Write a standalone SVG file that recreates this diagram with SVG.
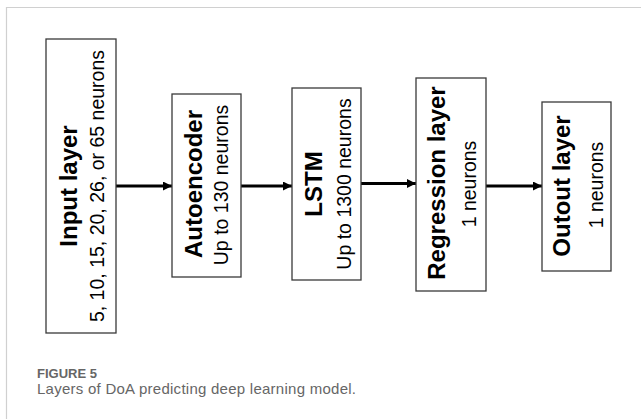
<svg xmlns="http://www.w3.org/2000/svg" width="641" height="419" viewBox="0 0 641 419">
  <style>
    .frame { stroke: #d0d0d0; stroke-width: 1.2; fill: none; }
    .box { fill: #ffffff; stroke: #3a3a3a; stroke-width: 1.3; }
    .title { font-family: "Liberation Sans", Arial, sans-serif; font-weight: bold; font-size: 24px; fill: #000; text-anchor: middle; }
    .sub { font-family: "Liberation Sans", Arial, sans-serif; font-size: 19.5px; fill: #000; text-anchor: middle; }
    .link { stroke: #000; stroke-width: 3; fill: none; marker-end: url(#head); }
    .cap-head { font-family: "Liberation Sans", Arial, sans-serif; font-weight: bold; font-size: 13px; fill: #666; }
    .cap-text { font-family: "Liberation Sans", Arial, sans-serif; font-size: 15px; fill: #666; }
  </style>
  <defs>
    <marker id="head" viewBox="0 0 10 10" refX="10" refY="5" markerWidth="3.2" markerHeight="3" orient="auto" markerUnits="strokeWidth">
      <path d="M0,0 L10,5 L0,10 z" fill="#000"/>
    </marker>
  </defs>

  <rect width="641" height="419" fill="#ffffff"/>
  <!-- panel frame -->
  <path class="frame" d="M641,7.5 H6.5 V419"/>

  <!-- connectors -->
  <g id="connectors">
    <line class="link" x1="116" y1="186" x2="172" y2="186"/>
    <line class="link" x1="241" y1="186" x2="292" y2="186"/>
    <line class="link" x1="361" y1="183.5" x2="416" y2="183.5"/>
    <line class="link" x1="486" y1="186" x2="542" y2="186"/>
  </g>

  <g id="input-layer">
    <rect class="box" x="46" y="39" width="70" height="294"/>
    <text class="title" transform="translate(77,186) rotate(-90)">Input layer</text>
    <text class="sub" transform="translate(104,186) rotate(-90)">5, 10, 15, 20, 26, or 65 neurons</text>
  </g>

  <g id="autoencoder">
    <rect class="box" x="172" y="94" width="69" height="183"/>
    <text class="title" transform="translate(202,184) rotate(-90)">Autoencoder</text>
    <text class="sub" transform="translate(228,185) rotate(-90)">Up to 130 neurons</text>
  </g>

  <g id="lstm">
    <rect class="box" x="292" y="88" width="69" height="192"/>
    <text class="title" transform="translate(322,184) rotate(-90)">LSTM</text>
    <text class="sub" transform="translate(351,184) rotate(-90)">Up to 1300 neurons</text>
  </g>

  <g id="regression-layer">
    <rect class="box" x="416" y="78" width="70" height="213"/>
    <text class="title" transform="translate(445,183) rotate(-90)">Regression layer</text>
    <text class="sub" transform="translate(476,184) rotate(-90)">1 neurons</text>
  </g>

  <g id="output-layer">
    <rect class="box" x="542" y="102" width="69" height="169"/>
    <text class="title" transform="translate(570,186) rotate(-90)">Outout layer</text>
    <text class="sub" transform="translate(603,185) rotate(-90)">1 neurons</text>
  </g>

  <!-- caption -->
  <text class="cap-head" x="37" y="378">FIGURE 5</text>
  <text class="cap-text" x="37" y="394" textLength="319" lengthAdjust="spacing">Layers of DoA predicting deep learning model.</text>
</svg>
